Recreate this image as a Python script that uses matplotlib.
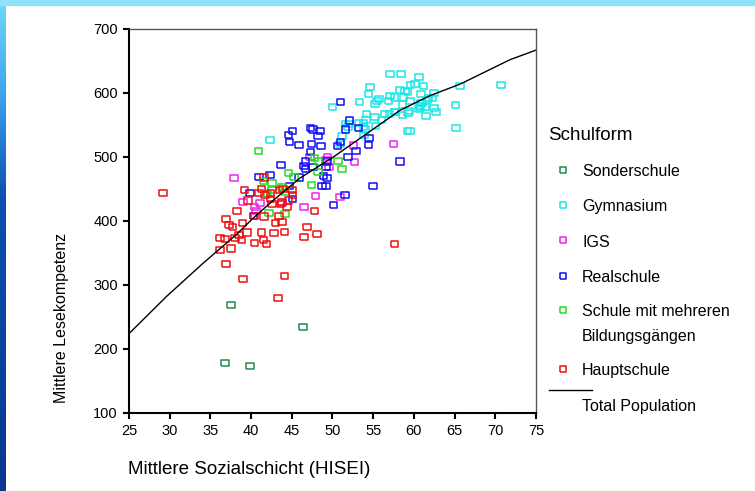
import matplotlib.pyplot as plt
import numpy as np
from matplotlib.lines import Line2D
from matplotlib.patches import Rectangle
from matplotlib.colors import LinearSegmentedColormap

plt.rcParams['font.family'] = ['Liberation Sans', 'DejaVu Sans']

# Mittlere Sozialschicht (HISEI) / Mittlere Lesekompetenz per school
sonder_x = [37.5, 36.8, 39.9, 46.4]
sonder_y = [269, 178, 173, 234]

gym_x = [57.1, 58.4, 60.6, 54.6, 54.4, 53.3, 50.0, 59.6, 60.1, 61.2, 62.5, 58.3, 58.9, 59.2,
         60.9, 57.1, 57.6, 58.7, 55.7, 55.5, 56.9, 59.5, 62.3, 55.2, 58.6, 60.9, 60.8, 61.4,
         60.6, 62.5, 62.7, 59.4, 61.5, 57.7, 57.0, 56.4, 58.6, 54.2, 55.2, 56.0, 54.1, 53.8,
         51.6, 51.9, 53.2, 51.2, 59.2, 59.5, 65.1, 65.7, 65.2, 70.7, 53.9, 61.6, 61.8, 61.0,
         60.7, 57.6, 59.3, 52.0, 53.8, 54.0, 55.3, 50.9, 42.3]
gym_y = [630, 629, 625, 609, 599, 586, 578, 612, 614, 611, 600, 604, 603, 601,
         598, 596, 593, 593, 590, 587, 587, 587, 592, 583, 582, 584, 576, 578,
         575, 576, 570, 572, 564, 570, 567, 567, 566, 567, 562, 558, 558, 547,
         552, 547, 553, 533, 540, 541, 581, 611, 545, 612, 535, 589, 592, 585,
         579, 570, 569, 551, 553, 543, 548, 521, 527]

igs_x = [37.9, 39.0, 40.4, 40.6, 41.1, 43.8, 46.5, 47.9, 47.2, 49.4, 49.6, 49.2, 52.6, 52.7,
         50.9, 57.5]
igs_y = [467, 430, 422, 416, 428, 428, 422, 439, 500, 500, 485, 495, 518, 492,
         438, 521]

real_x = [45.1, 44.6, 44.7, 47.3, 47.6, 48.5, 48.2, 45.9, 47.4, 48.6, 47.3, 43.7, 46.7, 46.5,
          47.6, 46.7, 49.2, 48.9, 48.7, 49.2, 45.9, 44.7, 39.9, 41.0, 42.3, 40.3, 45.1, 51.0,
          52.1, 51.6, 53.2, 54.5, 54.4, 51.0, 50.6, 52.9, 51.9, 49.3, 49.3, 51.5, 50.1, 55.0,
          58.3]
real_y = [540, 534, 523, 546, 543, 541, 533, 519, 521, 517, 508, 488, 493, 486,
          485, 481, 485, 471, 455, 455, 468, 454, 444, 469, 472, 408, 434, 586,
          557, 543, 545, 529, 519, 523, 517, 509, 500, 493, 467, 441, 425, 455,
          493]

mehr_x = [40.9, 44.6, 45.3, 41.5, 42.6, 43.8, 42.6, 42.0, 44.2, 42.2, 44.2, 47.4, 47.8, 48.3,
          48.2, 50.7, 51.2]
mehr_y = [510, 475, 469, 463, 459, 453, 448, 442, 445, 412, 411, 456, 499, 493,
          476, 494, 481]

haupt_x = [29.2, 36.9, 37.3, 37.7, 38.3, 36.2, 36.8, 36.2, 37.5, 36.9, 38.0, 38.5, 38.8, 38.95,
           39.5, 40.4, 40.4, 41.6, 41.3, 41.5, 41.9, 42.8, 43.0, 43.8, 44.1, 42.6, 43.8, 44.6,
           39.0, 44.1, 43.3, 46.9, 46.5, 47.8, 48.1, 39.6, 39.2, 41.6, 41.3, 41.0, 41.7, 42.4,
           42.4, 43.5, 43.9, 45.0, 45.1, 43.6, 44.4, 43.4, 57.6]
haupt_y = [444, 403, 394, 391, 416, 373, 372, 354, 357, 333, 373, 378, 370, 397,
           382, 408, 366, 407, 382, 370, 364, 381, 397, 398, 383, 426, 430, 432,
           310, 314, 279, 391, 375, 416, 380, 432, 448, 468, 450, 444, 441, 443,
           434, 449, 450, 449, 441, 427, 422, 408, 364]

# Total Population fit line
total_x = [25, 29.6, 34.1, 38.2, 40.3, 42.7, 46.0, 50.1, 54.6, 58.3, 62.0, 65.7, 71.8, 75]
total_y = [224, 282, 334, 379, 405, 432, 467, 500, 540, 573, 596, 614, 652, 667]

groups = [
    (['Sonderschule'], sonder_x, sonder_y, '#1f8a4c'),
    (['Gymnasium'], gym_x, gym_y, '#1ee6e6'),
    (['IGS'], igs_x, igs_y, '#f020f0'),
    (['Realschule'], real_x, real_y, '#1010f0'),
    (['Schule mit mehreren', 'Bildungsgängen'], mehr_x, mehr_y, '#22dd22'),
    (['Hauptschule'], haupt_x, haupt_y, '#f01010'),
]

rect = [(-1.25, -1), (1.25, -1), (1.25, 1), (-1.25, 1), (-1.25, -1)]

fig = plt.figure(figsize=(7.55, 4.91), dpi=100)

# slide background strips
grad = fig.add_axes([0, 0, 6 / 755, 1])
vals = np.linspace(0, 1, 200)[:, None]
cmap = LinearSegmentedColormap.from_list('bg', [(0, '#6fd8f8'), (0.2, '#3aa0ee'),
                                                (0.4, '#0c4fb0'), (1, '#0a3790')])
grad.imshow(vals, aspect='auto', cmap=cmap, extent=[0, 1, 1, 0])
grad.axis('off')
fig.patches.append(Rectangle((0, 1 - 5 / 491), 1, 5 / 491, transform=fig.transFigure,
                             color='#8fe2fa', zorder=0))

ax = fig.add_axes([129 / 755, 1 - 413 / 491, (536 - 129) / 755, (413 - 29) / 491])

for name, xs, ys, col in groups:
    ax.scatter(xs, ys, marker=rect, s=30, facecolors='none', edgecolors=col, linewidths=1.1)

ax.plot(total_x, total_y, color='black', lw=1)

ax.set_xlim(25, 75)
ax.set_ylim(100, 700)
ax.set_xticks(range(25, 80, 5))
ax.set_yticks(range(100, 800, 100))
ax.tick_params(direction='out', length=4, width=1.5, labelsize=10.5, colors='black', pad=4)
for s in ['left', 'bottom']:
    ax.spines[s].set_linewidth(1.5)
for s in ['top', 'right']:
    ax.spines[s].set_linewidth(1)
    ax.spines[s].set_color('#555555')

fig.text(128 / 755, 1 - 470 / 491, 'Mittlere Sozialschicht (HISEI)', fontsize=13.5,
         va='center', ha='left')
fig.text(62 / 755, 1 - 318 / 491, 'Mittlere Lesekompetenz', fontsize=11.5, rotation=90,
         va='center', ha='center')

# legend drawn by hand to keep the original spacing
fig.text(548 / 755, 1 - 135 / 491, 'Schulform', fontsize=13.5, va='center', ha='left')
leg_y = [172, 207, 242, 278, 312, 371]
for (lines, xs, ys, col), yy in zip(groups, leg_y):
    fig.add_artist(Line2D([563 / 755], [1 - (yy - 2) / 491], marker=rect, markersize=5,
                          markerfacecolor='none', markeredgecolor=col, mew=1.1,
                          linestyle='none', transform=fig.transFigure))
    for k, line in enumerate(lines):
        fig.text(582 / 755, 1 - (yy + 25 * k) / 491, line, fontsize=11.5, va='center',
                 ha='left')
fig.add_artist(Line2D([549 / 755, 592 / 755], [1 - 390 / 491, 1 - 390 / 491], color='black',
                      lw=1, transform=fig.transFigure))
fig.text(582 / 755, 1 - 406 / 491, 'Total Population', fontsize=11.5, va='center', ha='left')

fig.savefig('out.png', dpi=100)
